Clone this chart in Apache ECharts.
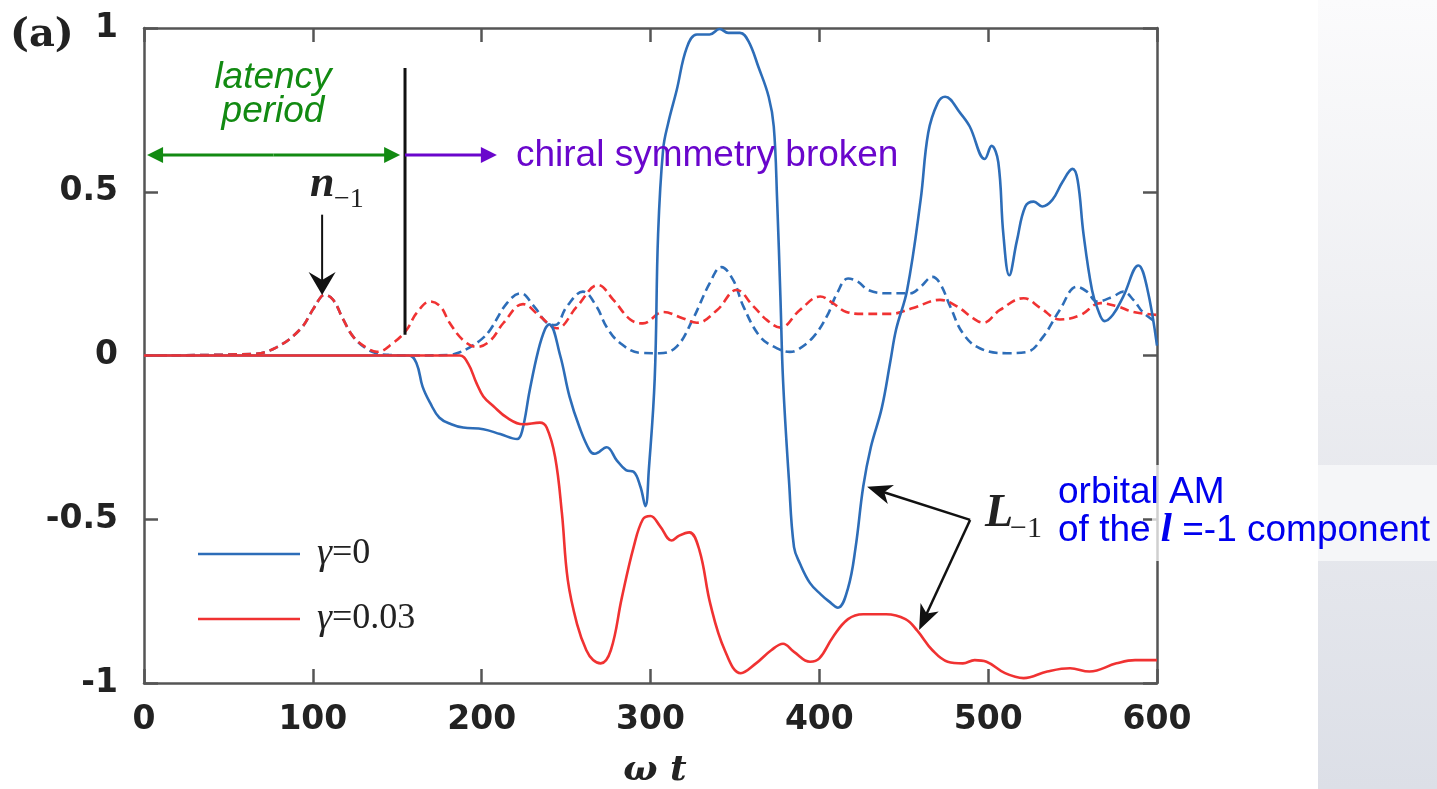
<!DOCTYPE html>
<html>
<head>
<meta charset="utf-8">
<script src="https://cdn.jsdelivr.net/npm/echarts@6/dist/echarts.min.js"></script>
<style>
html,body{margin:0;padding:0;background:#fff;}
#main{width:1437px;height:789px;}
</style>
</head>
<body>
<div id="main"></div>
<script>
// ---------- data (ω t, value) ----------
const xTicks = [0, 100, 200, 300, 400, 500, 600];
const yTicks = [-1, -0.5, 0, 0.5, 1];

// L_-1, gamma = 0 (blue solid)
const L_g0 = [[0,0],[157,0],[161.5,-0.025],[165,-0.095],[169.5,-0.145],[175,-0.19],[182,-0.21],[189,-0.22],[201,-0.225],[211,-0.24],[221,-0.255],[224,-0.23],[228.5,-0.105],[233.5,0.015],[237.5,0.08],[240,0.095],[246.5,0.0],[252,-0.125],[258,-0.22],[264,-0.29],[267,-0.30],[274,-0.28],[280,-0.32],[285.5,-0.35],[290,-0.355],[294,-0.40],[297,-0.46],[299,-0.35],[302.5,-0.07],[304.5,0.37],[307.5,0.63],[310.5,0.71],[315.5,0.81],[321.5,0.94],[327.5,0.98],[335,0.98],[341,0.997],[346,0.985],[353,0.985],[358,0.96],[364,0.88],[370,0.79],[373,0.70],[375,0.475],[377,0.17],[378.5,-0.075],[382,-0.38],[385,-0.585],[388.5,-0.635],[394.5,-0.695],[401,-0.73],[405.5,-0.75],[411,-0.77],[417,-0.71],[421.5,-0.585],[426,-0.40],[430.5,-0.28],[437,-0.16],[442,-0.02],[445.5,0.08],[452,0.20],[460,0.475],[464.5,0.68],[470,0.77],[474.5,0.79],[483.5,0.74],[489,0.70],[498,0.60],[502,0.64],[506,0.59],[509,0.37],[512.5,0.245],[517,0.35],[522,0.455],[527,0.47],[532,0.455],[538,0.475],[544,0.53],[550,0.57],[553,0.535],[556.5,0.37],[561.5,0.20],[565,0.14],[569,0.105],[574,0.125],[580,0.18],[589,0.275],[594,0.21],[600,0.03]];

// L_-1, gamma = 0.03 (red solid)
const L_g003 = [[0,0],[187,0],[192,-0.025],[197,-0.085],[201,-0.125],[207,-0.155],[215,-0.19],[224.5,-0.21],[234.5,-0.205],[238.5,-0.22],[243.5,-0.31],[247.5,-0.48],[251,-0.685],[256.5,-0.82],[262,-0.90],[266,-0.93],[270.5,-0.94],[276.5,-0.90],[283,-0.74],[290,-0.585],[295.5,-0.50],[300,-0.49],[305.5,-0.52],[312.5,-0.565],[317,-0.55],[323,-0.54],[329,-0.595],[335.5,-0.76],[344,-0.90],[353.5,-0.97],[362.5,-0.94],[371.5,-0.90],[378.5,-0.88],[385,-0.905],[394.5,-0.935],[400,-0.925],[408,-0.86],[417,-0.805],[426,-0.79],[439.5,-0.79],[451,-0.805],[458,-0.84],[467,-0.90],[476,-0.935],[485,-0.94],[492,-0.93],[499,-0.935],[510,-0.97],[521,-0.985],[535,-0.965],[548.5,-0.955],[560,-0.965],[576,-0.94],[587,-0.93],[600,-0.93]];

// n_-1, gamma = 0 (blue dashed)
const n_g0 = [[0,0],[64.5,0.005],[78.5,0.025],[92.5,0.08],[100,0.14],[105,0.18],[107,0.185],[112,0.17],[118,0.11],[124,0.057],[132,0.02],[138,0.006],[145,0.002],[160,0],[181,0.002],[187,0.01],[193,0.025],[200,0.05],[205,0.078],[215,0.16],[223,0.19],[231,0.15],[238.5,0.10],[243.5,0.093],[250.5,0.15],[260,0.195],[268,0.15],[274,0.087],[282,0.038],[294,0.008],[305.5,0.007],[315.5,0.027],[325,0.11],[335,0.22],[342,0.27],[349,0.23],[355,0.15],[365,0.057],[375,0.022],[382.5,0.011],[387,0.017],[396.5,0.057],[404.5,0.12],[410.5,0.19],[417,0.235],[423,0.225],[429,0.20],[440,0.19],[454,0.19],[460,0.21],[467,0.24],[471.5,0.22],[477.5,0.15],[485,0.068],[495,0.022],[511,0.007],[523,0.011],[532.5,0.057],[542.5,0.14],[552.5,0.21],[558.5,0.195],[564.5,0.165],[574,0.18],[580,0.195],[586,0.17],[592,0.13],[600,0.10]];

// n_-1, gamma = 0.03 (red dashed)
const n_g003 = [[0,0],[64.5,0.005],[78.5,0.025],[92.5,0.08],[100,0.14],[105,0.18],[107,0.185],[112,0.17],[118,0.11],[124,0.057],[132,0.023],[138,0.011],[147.5,0.038],[155.5,0.078],[161.5,0.13],[169.5,0.165],[175.5,0.15],[181,0.10],[189,0.047],[197,0.026],[205,0.045],[213,0.10],[224.5,0.157],[234.5,0.12],[244.5,0.083],[256.5,0.15],[269,0.215],[278,0.17],[288,0.11],[295.5,0.098],[307.5,0.133],[319,0.114],[327.5,0.10],[339.5,0.139],[351,0.20],[361,0.15],[369,0.108],[377,0.085],[388.5,0.139],[400.5,0.18],[408,0.16],[416,0.133],[426,0.127],[442,0.127],[455.5,0.145],[471.5,0.17],[481.5,0.15],[491,0.114],[497,0.10],[507,0.139],[521,0.175],[531,0.145],[542.5,0.11],[554.5,0.123],[566.5,0.16],[576.5,0.15],[586,0.133],[600,0.124]];

const seriesNames = ['γ=0', 'γ=0.03'];
const BLUE = '#2d6db8', RED = '#f03232';

// ---------- chart ----------
const chart = echarts.init(document.getElementById('main'), null, {renderer: 'canvas'});
const AXC = '#555';
const labelFont = {fontFamily: '"DejaVu Sans", sans-serif', fontSize: 33, fontWeight: 'bold', color: '#222'};

function lineSeries(name, data, color, dashed, z) {
  return {
    name: name, type: 'line', data: data, showSymbol: false, symbol: 'none',
    smooth: 0.4, z: z,
    lineStyle: {color: color, width: 2.6, type: dashed ? [9, 5] : 'solid'},
    itemStyle: {color: color}, emphasis: {disabled: true}, silent: true, animation: false
  };
}

const option = {
  animation: false,
  backgroundColor: '#fff',
  grid: {left: 144, top: 28, width: 1013, height: 655, containLabel: false},
  xAxis: [{
    type: 'value', min: 0, max: 600, interval: 100, position: 'bottom',
    axisLine: {show: true, onZero: false, lineStyle: {color: AXC, width: 2.5}},
    axisTick: {show: true, inside: true, length: 14, lineStyle: {color: AXC, width: 2.5}},
    axisLabel: Object.assign({margin: 21, formatter: v => String(v)}, labelFont),
    splitLine: {show: false}
  }, {
    type: 'value', min: 0, max: 600, interval: 100, position: 'top',
    axisLine: {show: true, onZero: false, lineStyle: {color: AXC, width: 2.5}},
    axisTick: {show: true, inside: true, length: 14, lineStyle: {color: AXC, width: 2.5}},
    axisLabel: {show: false}, splitLine: {show: false}
  }],
  yAxis: [{
    type: 'value', min: -1, max: 1, interval: 0.5, position: 'left',
    axisLine: {show: true, onZero: false, lineStyle: {color: AXC, width: 2.5}},
    axisTick: {show: true, inside: true, length: 14, lineStyle: {color: AXC, width: 2.5}},
    axisLabel: Object.assign({margin: 26, formatter: v => (yTicks.indexOf(v) >= 0 ? String(v) : '')}, labelFont),
    splitLine: {show: false}
  }, {
    type: 'value', min: -1, max: 1, interval: 0.5, position: 'right',
    axisLine: {show: true, onZero: false, lineStyle: {color: AXC, width: 2.5}},
    axisTick: {show: true, inside: true, length: 14, lineStyle: {color: AXC, width: 2.5}},
    axisLabel: {show: false}, splitLine: {show: false}
  }],
  legend: {
    data: [{name: seriesNames[0], icon: 'rect'}, {name: seriesNames[1], icon: 'rect'}],
    orient: 'vertical', left: 193, top: 530, itemWidth: 102, itemHeight: 2.6, itemGap: 27,
    selectedMode: false,
    formatter: name => '{g|γ}{t|' + name.slice(1) + '}',
    textStyle: {
      rich: {
        g: {fontFamily: 'Liberation Serif, serif', fontStyle: 'italic', fontSize: 38, color: '#222', padding: [0, 0, 0, 12]},
        t: {fontFamily: 'Liberation Serif, serif', fontSize: 36, color: '#222'}
      }
    }
  },
  series: [
    lineSeries(seriesNames[0], L_g0, BLUE, false, 3),
    lineSeries(seriesNames[1], L_g003, RED, false, 4),
    lineSeries(seriesNames[0], n_g0, BLUE, true, 2),
    lineSeries(seriesNames[1], n_g003, RED, true, 2)
  ]
};
chart.setOption(option);

// ---------- annotations (anchored in data coordinates) ----------
function px(t, v) { return chart.convertToPixel({xAxisIndex: 0, yAxisIndex: 0}, [t, v]); }

function arrow(p1, p2, color, lw, headL, headW, notch) {
  const dx = p2[0] - p1[0], dy = p2[1] - p1[1];
  const L = Math.hypot(dx, dy), ux = dx / L, uy = dy / L, nx = -uy, ny = ux;
  const bx = p2[0] - ux * headL, by = p2[1] - uy * headL;
  const cx = bx + ux * notch, cy = by + uy * notch;
  return [
    {type: 'line', z: 100, shape: {x1: p1[0], y1: p1[1], x2: cx + ux * 2, y2: cy + uy * 2}, style: {stroke: color, lineWidth: lw}},
    {type: 'polygon', z: 100, shape: {points: [[p2[0], p2[1]], [bx + nx * headW / 2, by + ny * headW / 2], [cx, cy], [bx - nx * headW / 2, by - ny * headW / 2]]}, style: {fill: color}}
  ];
}

const GREEN = '#128a12', PURPLE = '#6a06cc', TXTBLUE = '#0000ee';
const g = [];

// right-hand background panel
g.push({type: 'rect', z: -10, silent: true, shape: {x: 1318, y: 0, width: 119, height: 789},
  style: {fill: new echarts.graphic.LinearGradient(0, 0, 0, 1, [{offset: 0, color: '#fbfbfc'}, {offset: 0.5, color: '#ebecf0'}, {offset: 1, color: '#dcdfe7'}])}});
g.push({type: 'rect', z: 90, silent: true, shape: {x: 1152, y: 465, width: 166, height: 96}, style: {fill: 'rgba(255,255,255,0.72)'}});
g.push({type: 'rect', z: 90, silent: true, shape: {x: 1318, y: 465, width: 119, height: 96}, style: {fill: '#f5f6f8'}});

// (a)
g.push({type: 'text', z: 100, x: 10, y: 36, style: {text: '(a)', font: 'bold 40px "DejaVu Serif", serif', fill: '#222', verticalAlign: 'middle'}});

// vertical black separator at ω t ≈ 155
const vTop = px(154.6, 0.878), vBot = px(154.6, 0.063);
g.push({type: 'line', z: 100, shape: {x1: vTop[0], y1: vTop[1], x2: vBot[0], y2: vBot[1]}, style: {stroke: '#111', lineWidth: 3}});

// green double arrow (latency period)
const gA = px(1.8, 0.612), gB = px(151.7, 0.612), gM = px(76.7, 0.612);
g.push(...arrow(gM, gA, GREEN, 3, 16, 16, 0));
g.push(...arrow(gM, gB, GREEN, 3, 16, 16, 0));
g.push({type: 'text', z: 100, x: 273, y: 78, style: {text: 'latency', font: 'italic 37px "Liberation Sans", Arial, sans-serif', fill: GREEN, align: 'center', verticalAlign: 'middle'}});
g.push({type: 'text', z: 100, x: 273, y: 112, style: {text: 'period', font: 'italic 37px "Liberation Sans", Arial, sans-serif', fill: GREEN, align: 'center', verticalAlign: 'middle'}});

// purple arrow (chiral symmetry broken)
g.push(...arrow(px(154.6, 0.612), px(209, 0.612), PURPLE, 3, 16, 16, 0));
g.push({type: 'text', z: 100, x: 516, y: 156, style: {text: 'chiral symmetry broken', font: '37px "Liberation Sans", Arial, sans-serif', fill: PURPLE, align: 'left', verticalAlign: 'middle'}});

// n_-1 label and arrow
g.push(...arrow(px(105.5, 0.43), px(105.5, 0.185), '#111', 2, 23, 27, 8));
g.push({type: 'text', z: 100, x: 310, y: 207, style: {text: 'n', font: 'italic bold 44px "Liberation Serif", serif', fill: '#222', align: 'left', verticalAlign: 'bottom'}});
g.push({type: 'text', z: 100, x: 334, y: 214, style: {text: '−1', font: '28px "Liberation Serif", serif', fill: '#222', align: 'left', verticalAlign: 'bottom'}});

// L_-1 label and arrows
const vtx = px(489.3, -0.502);
g.push(...arrow(vtx, px(428.3, -0.401), '#111', 2.5, 25, 20, 7));
g.push(...arrow(vtx, px(459.1, -0.838), '#111', 2.5, 25, 20, 7));
g.push({type: 'text', z: 100, x: 985, y: 537, style: {text: 'L', font: 'italic bold 46px "Liberation Serif", serif', fill: '#222', align: 'left', verticalAlign: 'bottom'}});
g.push({type: 'text', z: 100, x: 1010, y: 544, style: {text: '−1', font: '30px "Liberation Serif", serif', fill: '#222', align: 'left', verticalAlign: 'bottom'}});

// orbital AM text
g.push({type: 'text', z: 100, x: 1058, y: 493, style: {text: 'orbital AM', font: '37px "Liberation Sans", Arial, sans-serif', fill: TXTBLUE, align: 'left', verticalAlign: 'middle'}});
g.push({type: 'text', z: 100, x: 1058, y: 531, style: {
  text: '{a|of the }{l|l}{a| =-1 component}', align: 'left', verticalAlign: 'middle',
  rich: {a: {font: '37px "Liberation Sans", Arial, sans-serif', fill: TXTBLUE}, l: {font: 'italic bold 40px "Liberation Serif", serif', fill: TXTBLUE}}
}});

// axis title ω t
g.push({type: 'text', z: 100, x: 655, y: 771, style: {text: 'ω t', font: 'italic bold 36px "DejaVu Serif", serif', fill: '#222', align: 'center', verticalAlign: 'middle'}});

chart.setOption({graphic: g});
</script>
</body>
</html>
